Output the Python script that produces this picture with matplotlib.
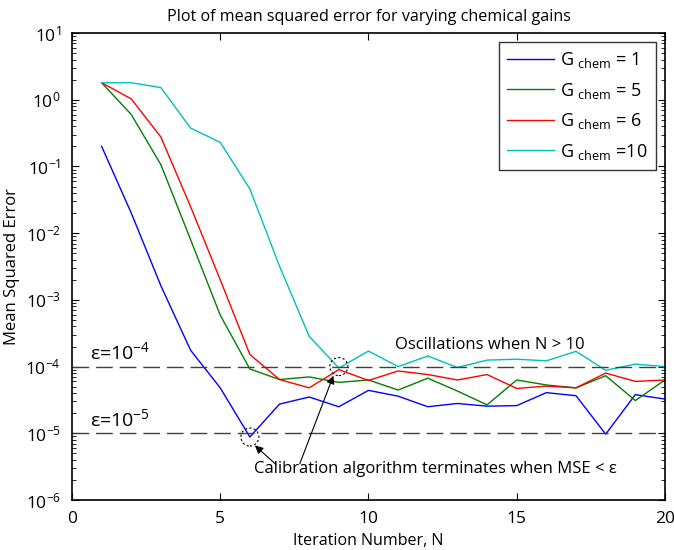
import matplotlib
matplotlib.use("Agg")
import matplotlib.pyplot as plt
from matplotlib.patches import Ellipse
import numpy as np

plt.rcParams['font.family'] = ['Open Sans', 'DejaVu Sans']
plt.rcParams['mathtext.fontset'] = 'custom'
plt.rcParams['mathtext.rm'] = 'Open Sans'
plt.rcParams['mathtext.it'] = 'Open Sans'

iterations = list(range(1, 21))
mse_g1 = [0.2, 0.02, 1.62e-3, 1.76e-4, 4.8e-5, 8.8e-6, 2.74e-5, 3.5e-5, 2.5e-5, 4.4e-5,
          3.6e-5, 2.5e-5, 2.8e-5, 2.55e-5, 2.6e-5, 4.07e-5, 3.66e-5, 9.7e-6, 3.8e-5, 3.26e-5]
mse_g5 = [1.8, 0.6, 0.106, 8.0e-3, 5.9e-4, 9.2e-5, 6.4e-5, 7.0e-5, 5.8e-5, 6.3e-5,
          4.45e-5, 6.7e-5, 4.3e-5, 2.67e-5, 6.3e-5, 5.3e-5, 4.8e-5, 7.3e-5, 3.1e-5, 6.3e-5]
mse_g6 = [1.8, 1.03, 0.275, 0.025, 2.0e-3, 1.52e-4, 6.4e-5, 4.8e-5, 9.0e-5, 6.2e-5,
          8.6e-5, 7.6e-5, 6.3e-5, 7.6e-5, 4.7e-5, 5.1e-5, 4.8e-5, 8.0e-5, 6.0e-5, 6.3e-5]
mse_g10 = [1.8, 1.8, 1.52, 0.376, 0.23, 0.046, 3.2e-3, 2.85e-4, 9.5e-5, 1.71e-4,
           1.0e-4, 1.44e-4, 9.7e-5, 1.25e-4, 1.29e-4, 1.22e-4, 1.69e-4, 8.8e-5, 1.09e-4, 1.0e-4]

series = [mse_g1, mse_g5, mse_g6, mse_g10]
labels = [r'G $_{\mathregular{chem}}$ = 1', r'G $_{\mathregular{chem}}$ = 5',
          r'G $_{\mathregular{chem}}$ = 6', r'G $_{\mathregular{chem}}$ =10']
colors = ['#0000ff', '#008000', '#ff0000', '#00bfbf']
ytick_values = [1e-6, 1e-5, 1e-4, 1e-3, 1e-2, 1e-1, 1e0, 1e1]
xtick_values = [0, 5, 10, 15, 20]

fig = plt.figure(figsize=(6.74, 5.5), dpi=100)
ax = fig.add_axes([0.1068, 0.0909, 0.8798, 0.849])

for y, lab, c in zip(series, labels, colors):
    ax.plot(iterations, y, color=c, lw=1.0, label=lab)

for eps in [1e-4, 1e-5]:
    ax.plot([0, 20], [eps, eps], color='#404040', lw=1.0, dashes=(12, 5))

ax.set_yscale('log')
ax.set_xlim(0, 20)
ax.set_ylim(1e-6, 10)
ax.set_xticks(xtick_values)
ax.set_yticks(ytick_values)
ax.tick_params(which='both', direction='in', top=True, right=True, labelsize=12.5)
ax.tick_params(axis='y', pad=8)
ax.tick_params(axis='x', pad=8)
ax.tick_params(which='major', length=5)
ax.tick_params(which='minor', length=3)
for s in ax.spines.values():
    s.set_linewidth(1.2)

ax.set_title('Plot of mean squared error for varying chemical gains', fontsize=11.6, pad=9)
ax.set_xlabel('Iteration Number, N', fontsize=11.5, labelpad=4)
ax.set_ylabel('Mean Squared Error', fontsize=12, labelpad=4)

ax.text(0.6, 1.3e-4, r'ε=10$^{\mathregular{-4}}$', fontsize=14)
ax.text(0.6, 1.3e-5, r'ε=10$^{\mathregular{-5}}$', fontsize=14)
ax.text(14.1, 1.85e-4, 'Oscillations when N > 10', fontsize=12, ha='center')
ax.text(12.25, 2.55e-6, 'Calibration algorithm terminates when MSE < ε', fontsize=12, ha='center')

# dashed circles (in display-consistent size)
def circle(x, y):
    r_px = 9
    trans = ax.transData
    cx, cy = trans.transform((x, y))
    e = Ellipse((cx, cy), 2 * r_px, 2 * r_px, transform=None, fill=False,
                ls=(0, (2, 2)), lw=0.8, color='black')
    fig.add_artist(e)

circle(6, 8.8e-6)
circle(9, 1.0e-4)

ax.annotate('', xy=(6.1, 7.0e-6), xytext=(6.95, 3.2e-6),
            arrowprops=dict(arrowstyle='-|>', color='black', lw=0.8, mutation_scale=12))
ax.annotate('', xy=(8.85, 8.0e-5), xytext=(7.65, 3.2e-6),
            arrowprops=dict(arrowstyle='-|>', color='black', lw=0.8, mutation_scale=12))

leg = ax.legend(loc='upper right', fontsize=13, frameon=True, fancybox=False,
                edgecolor='black', handlelength=2.6, borderaxespad=0.5,
                labelspacing=0.58, handletextpad=0.35, borderpad=0.45)
leg.get_frame().set_linewidth(1.0)

fig.savefig('out.png', dpi=100)
